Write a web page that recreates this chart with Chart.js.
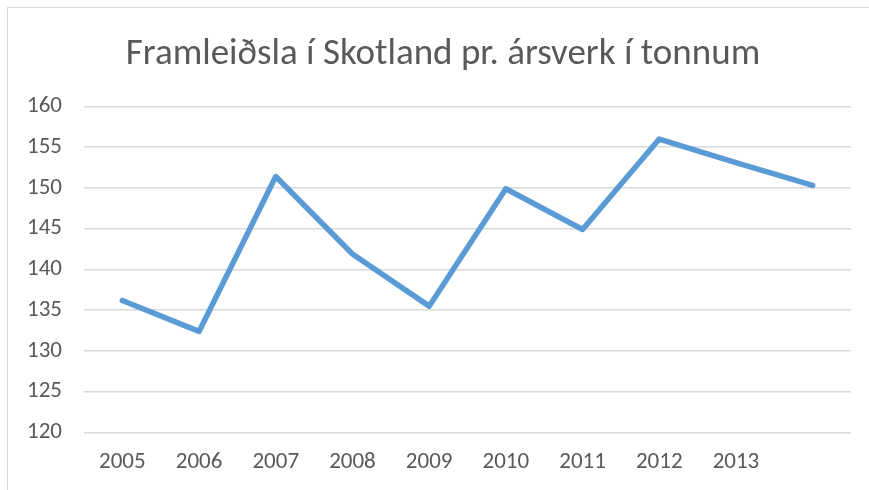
<!DOCTYPE html>
<html>
<head>
<meta charset="utf-8">
<script src="https://cdn.jsdelivr.net/npm/chart.js"></script>
<style>
  html, body { margin: 0; padding: 0; background: #fff; overflow: hidden; }
  #wrap { position: relative; width: 869px; height: 490px; overflow: hidden; }
  #frame { position: absolute; left: 7px; top: 7px; right: 0; bottom: 0;
           border-top: 1.5px solid #d9d9d9; border-left: 1.5px solid #d9d9d9; pointer-events: none; }
</style>
</head>
<body>
<div id="wrap">
  <canvas id="chart" width="886" height="490"></canvas>
  <div id="frame"></div>
</div>
<script>
const years = ["2005", "2006", "2007", "2008", "2009", "2010", "2011", "2012", "2013", ""];
const tonsPerWorker = [136.2, 132.4, 151.4, 141.9, 135.5, 149.9, 144.9, 156.0, 153.1, 150.3];
const chartTitle = "Framleiðsla í Skotland pr. ársverk í tonnum";

const font = "Calibri, Carlito, 'Open Sans', sans-serif";
const grey = "#595959";

new Chart(document.getElementById("chart").getContext("2d"), {
  type: "line",
  data: {
    labels: years,
    datasets: [{
      data: tonsPerWorker,
      borderColor: "#5b9bd5",
      borderWidth: 5.5,
      borderCapStyle: "round",
      borderJoinStyle: "round",
      pointRadius: 0,
      tension: 0,
      fill: false
    }]
  },
  options: {
    responsive: false,
    animation: false,
    layout: { padding: { left: 0, right: 0, top: 0, bottom: 14 } },
    plugins: {
      legend: { display: false },
      tooltip: { enabled: false },
      title: {
        display: true,
        text: chartTitle,
        color: grey,
        font: { family: font, size: 37, weight: "normal" },
        padding: { top: 33, bottom: 29 }
      }
    },
    scales: {
      x: {
        offset: true,
        grid: { display: false, drawTicks: false },
        border: { display: false },
        ticks: { color: grey, font: { family: font, size: 23 }, padding: 16, maxRotation: 0, autoSkip: false },
        afterFit: axis => { axis.height = 43.5; }
      },
      y: {
        min: 120,
        max: 160,
        ticks: { stepSize: 5, color: grey, font: { family: font, size: 23 }, padding: 22 },
        grid: { color: "#d9d9d9", lineWidth: 1.5, drawTicks: false },
        border: { display: false },
        afterFit: axis => { axis.width = 84; }
      },
      // empty spacer on the right so the plot ends where the reference does
      spacer: {
        position: "right",
        grid: { display: false, drawTicks: false },
        border: { display: false },
        ticks: { display: false },
        afterFit: axis => { axis.width = 35; }
      }
    }
  }
});
</script>
</body>
</html>
